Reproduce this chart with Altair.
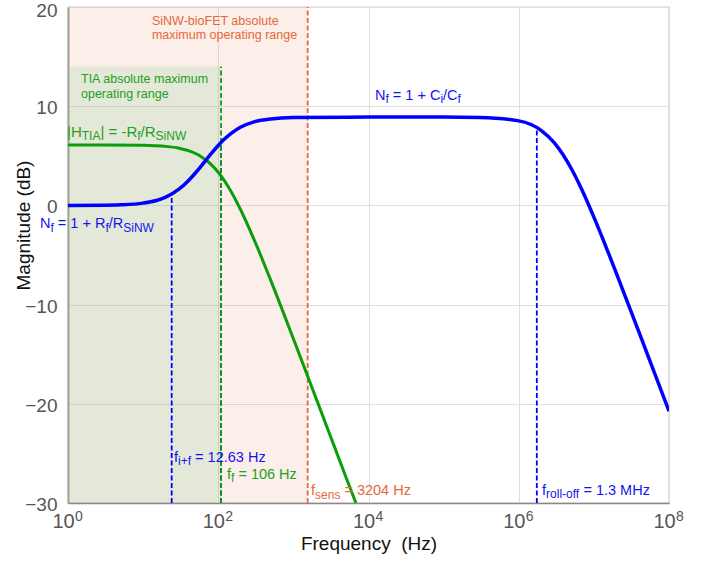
import altair as alt
import pandas as pd

FONT = "Liberation Sans"
NBSP = "\u00a0"

# ---------------- data ----------------
# TIA transfer magnitude |H_TIA| (green curve)
tia_freq = [1, 3, 10, 20, 30, 40, 50, 60, 70, 80, 100, 120, 150, 200, 300,
            500, 1000, 2000, 3000, 5000, 6800]
tia_db = [6.10, 6.10, 6.06, 5.95, 5.77, 5.52, 5.23, 4.89, 4.53, 4.14, 3.34,
          2.52, 1.33, -0.49, -3.45, -7.56, -13.44, -19.43, -22.94, -27.37, -30.0]

# noise gain N_f (blue curve)
nf_freq = [1, 3, 5, 10, 15, 20, 30, 40, 50, 60, 70, 80, 100, 120, 150, 200,
           300, 500, 1000, 1e4, 1e5, 3e5, 1e6, 2e6, 3e6, 5e6, 7e6, 1e7, 2e7,
           5e7, 1e8]
nf_db = [0.0, 0.02, 0.06, 0.23, 0.49, 0.83, 1.63, 2.49, 3.29, 4.01, 4.65,
         5.19, 6.04, 6.66, 7.29, 7.90, 8.42, 8.72, 8.86, 8.90, 8.90, 8.86,
         8.52, 7.54, 6.28, 3.72, 1.50, -1.18, -6.87, -14.73, -20.74]

# shaded operating ranges
range_name = ["SiNW-bioFET", "TIA"]
range_lo = [1, 1]
range_hi = [1550, 109]
range_bottom = [-30, -30]
range_top = [20, 14]

# dashed marker lines
marker_name = ["fif", "ff_blue", "ff", "fsens", "froll"]
marker_freq = [24, 109, 109, 1550, 1.74e6]
marker_top = [1.0, 6.4, 14, 20, 7.8]
marker_bottom = [-30, -30, -30, -30, -30]

x_ticks = [1, 1e2, 1e4, 1e6, 1e8]
x_tick_exp = ["0", "2", "4", "6", "8"]
y_ticks = [-30, -20, -10, 0, 10, 20]

# ---------------- styles ----------------
BLUE = "#0000FF"
BLUE_TXT = "#1414F0"
GREEN = "#0A9F0A"
GREEN_TXT = "#22A022"
ORANGE = "#E5683A"
LABEL_GRAY = "#555555"
range_style = {"SiNW-bioFET": ("#E8734A", 0.12), "TIA": ("#89D094", 0.2)}
marker_style = {"fif": BLUE, "ff_blue": BLUE, "ff": GREEN, "fsens": ORANGE, "froll": BLUE}

xscale = alt.Scale(type="log", domain=[1, 1e8], nice=False)
yscale = alt.Scale(domain=[-30, 20], nice=False, zero=False)

xaxis = alt.Axis(
    values=x_ticks,
    labelExpr="'10'",
    labelOffset=-5,
    grid=True, gridColor="#e0e0e0", gridWidth=1, ticks=False,
    domainColor="#8a8a8a", domainWidth=1.5,
    labelFont=FONT, labelFontSize=20, labelColor=LABEL_GRAY, labelPadding=8,
    labelFlush=False,
    titleFont=FONT, titleFontSize=19, titleColor="#111111",
    titleFontWeight="normal", titlePadding=3,
)
yaxis = alt.Axis(
    values=y_ticks,
    grid=True, gridColor="#e0e0e0", gridWidth=1, ticks=False,
    domainColor="#a0a0a0", domainWidth=2,
    labelFont=FONT, labelFontSize=19, labelColor=LABEL_GRAY, labelPadding=11,
    labelOffset={"condition": {"test": "datum.value == 20", "value": 3}, "value": 1.5},
    titleFont=FONT, titleFontSize=19, titleColor="#111111",
    titleFontWeight="normal", titlePadding=-9, titleY=218,
)

X_TITLE = "Frequency" + NBSP + " (Hz)"
Y_TITLE = "Magnitude (dB)"


def X(field):
    return alt.X(field, type="quantitative", scale=xscale, axis=xaxis, title=X_TITLE)


def Y(field):
    return alt.Y(field, type="quantitative", scale=yscale, axis=yaxis, title=Y_TITLE)


ranges_df = pd.DataFrame({"name": range_name, "lo": range_lo, "hi": range_hi,
                          "bottom": range_bottom, "top": range_top})
markers_df = pd.DataFrame({"name": marker_name, "f": marker_freq,
                           "top": marker_top, "bottom": marker_bottom})
tia_df = pd.DataFrame({"f": tia_freq, "db": tia_db})
nf_df = pd.DataFrame({"f": nf_freq, "db": nf_db})
exp_df = pd.DataFrame({"f": x_ticks, "e": x_tick_exp, "db": [-30] * len(x_ticks)})

rects = []
for i, name in enumerate(range_name):
    col, op = range_style[name]
    rects.append(alt.Chart(ranges_df.iloc[[i]]).mark_rect(color=col, opacity=op).encode(
        x=X("lo"), x2=alt.X2("hi"), y=Y("bottom"), y2=alt.Y2("top")))

rules = []
for i, name in enumerate(marker_name):
    rules.append(alt.Chart(markers_df.iloc[[i]]).mark_rule(
        strokeDash=[5, 2.5], strokeWidth=1.8, color=marker_style[name]).encode(
        x=X("f"), y=Y("bottom"), y2=alt.Y2("top")))

tia_line = alt.Chart(tia_df).mark_line(color=GREEN, strokeWidth=3, interpolate="monotone", clip=True).encode(
    x=X("f"), y=Y("db"))
nf_line = alt.Chart(nf_df).mark_line(color=BLUE, strokeWidth=3.5, interpolate="monotone", clip=True).encode(
    x=X("f"), y=Y("db"))

# superscript exponents of the x tick labels
exps = alt.Chart(exp_df).mark_text(
    align="left", baseline="alphabetic", dx=7, dy=18, fontSize=14,
    color=LABEL_GRAY, font=FONT,
).encode(x=X("f"), y=Y("db"), text="e:N")

# ---------------- annotations (with subscripts) ----------------
CW = {' ': 278, '|': 260, '=': 584, '+': 584, '-': 333, '/': 278, '.': 278,
      '(': 333, ')': 333,
      'a': 556, 'b': 556, 'c': 500, 'd': 556, 'e': 556, 'f': 278, 'g': 556,
      'h': 556, 'i': 222, 'j': 222, 'k': 500, 'l': 222, 'm': 833, 'n': 556,
      'o': 556, 'p': 556, 'q': 556, 'r': 333, 's': 500, 't': 278, 'u': 556,
      'v': 500, 'w': 722, 'x': 500, 'y': 500, 'z': 500,
      'A': 667, 'B': 667, 'C': 722, 'D': 722, 'E': 667, 'F': 611, 'G': 778,
      'H': 722, 'I': 278, 'M': 833, 'N': 722, 'R': 722, 'S': 667, 'T': 611,
      'W': 944}


def text_width(s, size):
    return sum(CW.get(c, 556) for c in s) * size / 1000.0


def annotation(freq, db, parts, color, size, subsize, subdy=3.5):
    df = pd.DataFrame({"f": [freq], "db": [db]})
    out = []
    dx = 0.0
    for txt, sub in parts:
        fs = subsize if sub else size
        stripped = txt.lstrip(" ")
        dx += text_width(txt[: len(txt) - len(stripped)], fs)
        out.append(alt.Chart(df).mark_text(
            text=stripped, align="left", baseline="alphabetic", dx=dx,
            dy=subdy if sub else 0, fontSize=fs, color=color, font=FONT,
        ).encode(x=X("f"), y=Y("db")))
        dx += text_width(stripped, fs)
    return out


texts = []
texts += annotation(13.1, 18.19, [("SiNW-bioFET absolute", False)], ORANGE, 12.5, 10)
texts += annotation(13.1, 16.75, [("maximum operating range", False)], ORANGE, 12.5, 10)
texts += annotation(1.49, 12.29, [("TIA absolute maximum", False)], GREEN_TXT, 12.5, 10)
texts += annotation(1.49, 10.78, [("operating range", False)], GREEN_TXT, 12.5, 10)
texts += annotation(0.97, 6.9, [("|H", False), ("TIA", True), ("| = -R", False),
                                ("f", True), ("/R", False), ("SiNW", True)], GREEN_TXT, 15, 12)
texts += annotation(12200, 10.63, [("N", False), ("f", True), (" = 1 + C", False),
                                   ("i", True), ("/C", False), ("f", True)], BLUE_TXT, 14.5, 12)
texts += annotation(0.424, -2.28, [("N", False), ("f", True), (" = 1 + R", False),
                                   ("f", True), ("/R", False), ("SiNW", True)], BLUE_TXT, 14.5, 12)
texts += annotation(25.8, -25.82, [("f", False), ("i+f", True), (" = 12.63 Hz", False)], BLUE_TXT, 14.5, 12)
texts += annotation(130.7, -27.58, [("f", False), ("f", True), (" = 106 Hz", False)], GREEN_TXT, 14.5, 12)
texts += annotation(1717, -29.24, [("f", False), ("sens", True), (" = 3204 Hz", False)], ORANGE, 14.5, 12)
texts += annotation(2.04e6, -29.19, [("f", False), ("roll-off", True), (" = 1.3 MHz", False)], BLUE_TXT, 14.5, 12)

chart = alt.layer(*rects, *rules, tia_line, nf_line, exps, *texts).properties(
    width=601, height=496,
    padding={"left": 68, "top": 7, "right": 43, "bottom": 58},
    autosize=alt.AutoSizeParams(type="none"),
).configure_view(stroke="#a0a0a0", strokeWidth=1.2)

chart.save("out.html", embed_options={"renderer": "svg", "actions": False})
